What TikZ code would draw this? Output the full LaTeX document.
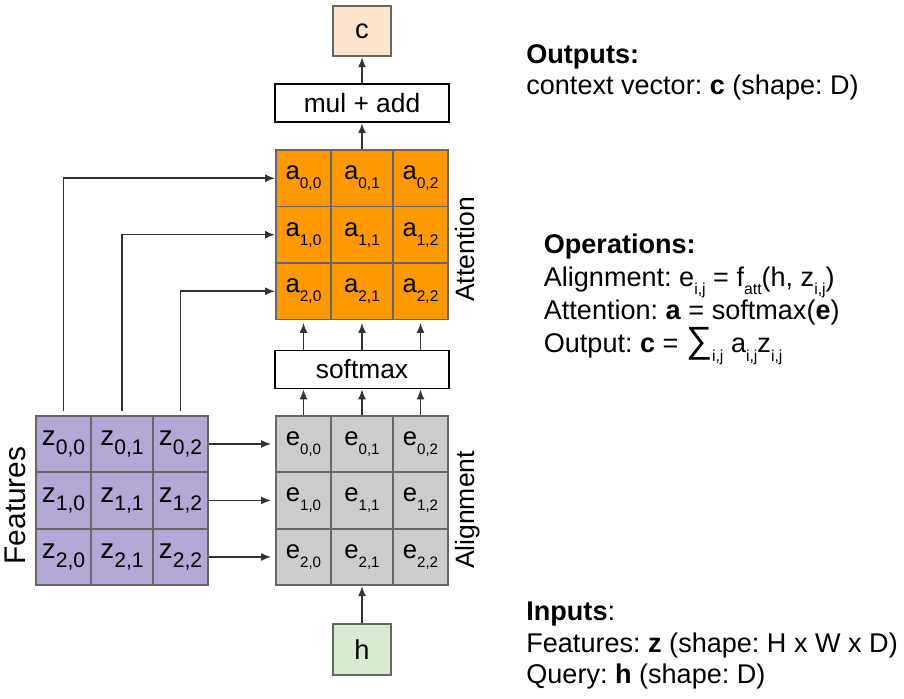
\documentclass[tikz,border=0pt]{standalone}
\usepackage{fontspec}
\setmainfont{Liberation Sans}
\usepackage{tikz}
\usetikzlibrary{positioning,calc,arrows.meta}
\definecolor{attorange}{HTML}{FF9900}
\definecolor{featpurple}{HTML}{B4A7D6}
\definecolor{aligngray}{HTML}{CCCCCC}
\definecolor{outpeach}{HTML}{FCE5CD}
\definecolor{querygreen}{HTML}{D9EAD3}
\definecolor{edgegray}{HTML}{666666}
\definecolor{wirecharcoal}{HTML}{333333}
\newcommand{\idx}[2][8.3]{\raisebox{-5pt}{\fontsize{#1}{#1}\selectfont #2}}
\frenchspacing

\begin{document}
\begin{tikzpicture}[
  cell/.style={draw=edgegray, line width=1.1pt, minimum height=1.13cm, inner sep=0pt, font=\fontsize{14.6}{16}\selectfont},
  opbox/.style={draw=black, line width=1pt, fill=white, minimum width=3.47cm, minimum height=0.76cm, inner sep=0pt, font=\fontsize{15}{18}\selectfont},
  vecbox/.style={draw=edgegray, line width=1.1pt, minimum width=1.15cm, minimum height=1.01cm, inner sep=0pt, font=\fontsize{15.5}{18}\selectfont},
  wire/.style={-{Latex[length=2mm,width=1.6mm]}, draw=wirecharcoal, line width=0.85pt},
  sidelabel/.style={rotate=90, anchor=north, inner sep=0pt, font=\fontsize{15.1}{18}\selectfont},
  note/.style={anchor=north west, align=left, inner sep=0pt, font=\fontsize{15.4}{18}\selectfont}
]
  \useasboundingbox (0,0) rectangle (18.08,13.98);

  % the three 3x3 grids
  \foreach \row in {0,1,2}
    \foreach \col/\cx/\w in {0/0.55/1.1, 1/1.72/1.24, 2/2.89/1.1} {
      \node[cell, fill=attorange, minimum width=\w cm] (a\row\col) at (5.52+\cx, 10.415-1.13*\row) {a\idx[8.8]{\row,\col}};
      \node[cell, fill=aligngray, minimum width=\w cm] (e\row\col) at (5.52+\cx, 5.101-1.13*\row) {e\idx[8.6]{\row,\col}};
      \node[cell, fill=featpurple, minimum width=\w cm, font=\fontsize{15.8}{18}\selectfont] (z\row\col) at (0.72+\cx, 5.101-1.13*\row) {z\idx[12]{\row,\col}};
    }

  \node[opbox] (mul) at (7.24,11.913) {mul + add};
  \node[vecbox, fill=outpeach] (cvec) at (7.24,13.36) {c};
  \node[opbox] (sm) at (7.24,6.59) {softmax};
  \node[vecbox, fill=querygreen] (hvec) at (7.24,0.99) {h};

  \node[sidelabel] (attlbl) at (9.1,8.99) {Attention};
  \node[sidelabel] (alnlbl) at (9.1,3.78) {Alignment};
  \node[sidelabel, font=\fontsize{17}{20}\selectfont] (featlbl) at (0.1,3.87) {Features};

  \draw[wire] (mul) -- (cvec);
  \draw[wire] (a01) -- (mul);
  \draw[wire] (hvec) -- (e21);
  \foreach \col in {0,1,2} {
    \draw[wire] (e0\col.north) -- (e0\col.north |- sm.south);
    \draw[wire, shorten >=0.05cm] (a2\col.south |- sm.north) -- (a2\col.south);
  }
  \foreach \i in {0,1,2} {
    \draw[wire, shorten <=0.08cm] (z0\i.north) |- (a\i0.west);
    \draw[wire, shorten >=0.08cm] (z\i2.east) -- (e\i0.west);
  }

  % text on the right
  \node[note] (outtxt) at (10.52,13.1) {\textbf{Outputs:}\\context vector: \textbf{c} (shape: D)};
  \node[note, font=\fontsize{15.4}{18.8}\selectfont] (optxt) at (10.87,9.316) {\textbf{Operations:}\\Alignment: e\idx[9]{i,j} = f\idx[9]{att}(h, z\idx[9]{i,j})\\Attention: \textbf{a} = softmax(\textbf{e})\\Output: \textbf{c} = \scalebox{1.35}{∑}\idx[9]{i,j} a\idx[9]{i,j}z\idx[9]{i,j}};
  \node[note] (intxt) at (10.52,1.948) {\textbf{Inputs}:\\Features: \textbf{z} (shape: H x W x D)\\Query: \textbf{h} (shape: D)};
\end{tikzpicture}
\end{document}
